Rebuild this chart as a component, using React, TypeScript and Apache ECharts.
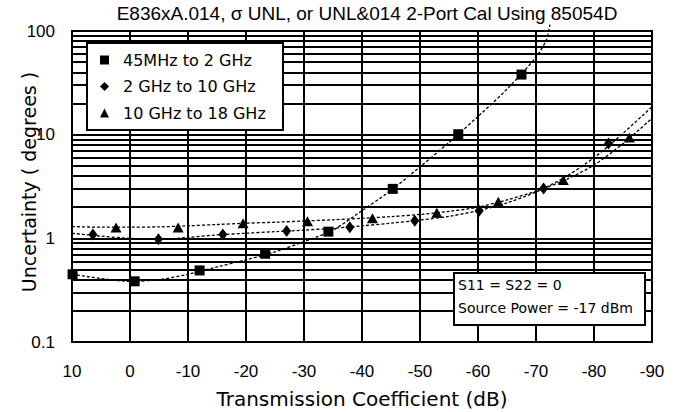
import React, { useEffect, useRef } from "react";
import * as echarts from "echarts";

const titleText = "E836xA.014, σ UNL, or UNL&014 2-Port Cal Using 85054D";
const xAxisName = "Transmission Coefficient (dB)";
const yAxisName = "Uncertainty ( degrees )";
const seriesNames = ["45MHz to 2 GHz", "2 GHz to 10 GHz", "10 GHz to 18 GHz"];
const noteLines = ["S11 = S22 = 0", "Source Power = -17 dBm"];

const minorGridValues = [
  0.2, 0.3, 0.4, 0.5, 0.6, 0.7, 0.8, 0.9,
  2, 3, 4, 5, 6, 7, 8, 9,
  20, 30, 40, 50, 60, 70, 80, 90,
];

// markers
const squareMarkX = [9.9, -0.8, -12, -23.3, -34.2, -45.3, -56.6, -67.5];
const squareMarkY = [0.45, 0.385, 0.49, 0.71, 1.16, 3.0, 10.1, 38];
const diamondMarkX = [6.4, -4.9, -16, -27, -37.9, -49.1, -60.2, -71.3, -82.5];
const diamondMarkY = [1.09, 0.98, 1.09, 1.18, 1.28, 1.48, 1.85, 3.03, 8.2];
const triangleMarkX = [2.4, -8.3, -19.5, -30.6, -41.8, -52.9, -63.5, -74.7, -86.1];
const triangleMarkY = [1.27, 1.27, 1.4, 1.46, 1.56, 1.77, 2.25, 3.65, 9.4];

// fitted curves
const squareCurveX = [10, 5, 0, -5, -10, -15, -20, -25, -30, -35, -40, -45, -50, -55, -60, -65, -70, -71.8, -72.2, -72.4];
const squareCurveY = [0.45, 0.41, 0.385, 0.4, 0.45, 0.53, 0.62, 0.74, 0.93, 1.2, 1.85, 2.9, 4.9, 8.4, 15, 27.5, 56, 82, 100, 115];
const curveX = [10, 5, 0, -5, -10, -15, -20, -25, -30, -35, -40, -45, -50, -55, -60, -65, -70, -75, -80, -85, -90];
const diamondCurveY = [1.12, 1.05, 1.0, 0.98, 1.02, 1.08, 1.12, 1.16, 1.2, 1.25, 1.32, 1.4, 1.5, 1.63, 1.85, 2.2, 2.8, 3.9, 6.0, 10.3, 18.6];
const triangleCurveY = [1.3, 1.28, 1.28, 1.29, 1.32, 1.36, 1.4, 1.43, 1.47, 1.51, 1.56, 1.62, 1.7, 1.82, 2.0, 2.35, 2.85, 3.65, 5.1, 8.2, 14.4];

const zip = (xs: number[], ys: number[]) => xs.map((x, i) => [x, ys[i]]);

export default function App() {
  const ref = useRef<HTMLDivElement>(null);
  useEffect(() => {
    if (!ref.current) return;
    const chart = echarts.init(ref.current, undefined, { renderer: "svg" });
    const curveStyle = { color: "#000", width: 1.3, type: [3, 2] as any, opacity: 1 };
    const markStyle = { color: "#000", opacity: 1 };
    const option: any = {
      animation: false,
      backgroundColor: "#fff",
      grid: {
        left: 72,
        right: 25,
        top: 31,
        bottom: 70,
        show: true,
        borderColor: "#000",
        borderWidth: 2,
        containLabel: false,
        outerBoundsMode: "none",
      },
      xAxis: {
        type: "value",
        min: -90,
        max: 10,
        interval: 10,
        inverse: true,
        axisLine: { show: true, lineStyle: { color: "#000", width: 2 } },
        axisTick: { show: false },
        splitLine: { show: true, lineStyle: { color: "#000", width: 2 } },
        axisLabel: {
          color: "#000",
          fontFamily: "Liberation Sans",
          fontSize: 17,
          margin: 21,
        },
      },
      yAxis: {
        type: "log",
        logBase: 10,
        min: 0.1,
        max: 100,
        axisLine: { show: true, lineStyle: { color: "#000", width: 2 } },
        axisTick: { show: false },
        splitLine: { show: true, lineStyle: { color: "#000", width: 2 } },
        axisLabel: {
          color: "#000",
          fontFamily: "Liberation Sans",
          fontSize: 17,
          margin: 17,
          formatter: (v: number) => String(v),
        },
      },
      legend: {
        orient: "vertical",
        left: 95,
        top: 46.5,
        z: 12,
        selectedMode: false,
        itemWidth: 9,
        itemHeight: 9,
        itemGap: 9.5,
        itemStyle: { color: "#000", opacity: 1 },
        textStyle: {
          color: "#000",
          fontFamily: "DejaVu Sans",
          fontSize: 16,
          lineHeight: 17,
          padding: [0, 0, 0, 9],
        },
        data: [
          { name: seriesNames[0], icon: "rect" },
          { name: seriesNames[1], icon: "diamond" },
          { name: seriesNames[2], icon: "triangle" },
        ],
      },
      graphic: [
        {
          type: "text",
          x: 367,
          y: 13,
          z: 11,
          style: {
            text: titleText,
            fill: "#000",
            font: "19px 'Liberation Sans'",
            textAlign: "center",
            textVerticalAlign: "middle",
          },
        },
        {
          type: "text",
          x: 362,
          y: 399,
          z: 11,
          style: {
            text: xAxisName,
            fill: "#000",
            font: "20px 'DejaVu Sans'",
            textAlign: "center",
            textVerticalAlign: "middle",
          },
        },
        {
          type: "text",
          x: 29,
          y: 182,
          rotation: Math.PI / 2,
          z: 11,
          style: {
            text: yAxisName,
            fill: "#000",
            font: "19px 'DejaVu Sans'",
            textAlign: "center",
            textVerticalAlign: "middle",
          },
        },
        {
          type: "rect",
          z: 10,
          shape: { x: 87, y: 43, width: 196, height: 87 },
          style: { fill: "#fff", stroke: "#000", lineWidth: 2 },
        },
        {
          type: "rect",
          z: 10,
          shape: { x: 454, y: 273, width: 191, height: 52 },
          style: { fill: "#fff", stroke: "#000", lineWidth: 2 },
        },
        {
          type: "text",
          x: 458,
          y: 285,
          z: 11,
          style: {
            text: noteLines[0],
            fill: "#000",
            font: "14px 'DejaVu Sans'",
            textAlign: "left",
            textVerticalAlign: "middle",
          },
        },
        {
          type: "text",
          x: 458,
          y: 308,
          z: 11,
          style: {
            text: noteLines[1],
            fill: "#000",
            font: "14px 'DejaVu Sans'",
            textAlign: "left",
            textVerticalAlign: "middle",
          },
        },
      ],
      series: [
        {
          name: "curve-a",
          type: "line",
          data: zip(squareCurveX, squareCurveY),
          smooth: 0.3,
          showSymbol: false,
          clip: false,
          lineStyle: curveStyle,
          silent: true,
          markLine: {
            silent: true,
            symbol: "none",
            label: { show: false },
            lineStyle: { color: "#000", width: 2, type: "solid", opacity: 1 },
            data: minorGridValues.map((v) => ({ yAxis: v })),
          },
        },
        {
          name: "curve-b",
          type: "line",
          data: zip(curveX, diamondCurveY),
          smooth: 0.3,
          showSymbol: false,
          lineStyle: curveStyle,
          silent: true,
        },
        {
          name: "curve-c",
          type: "line",
          data: zip(curveX, triangleCurveY),
          smooth: 0.3,
          showSymbol: false,
          lineStyle: curveStyle,
          silent: true,
        },
        {
          name: seriesNames[0],
          type: "scatter",
          symbol: "rect",
          symbolSize: 10,
          itemStyle: markStyle,
          data: zip(squareMarkX, squareMarkY),
        },
        {
          name: seriesNames[1],
          type: "scatter",
          symbol: "diamond",
          symbolSize: [9, 12],
          itemStyle: markStyle,
          data: zip(diamondMarkX, diamondMarkY),
        },
        {
          name: seriesNames[2],
          type: "scatter",
          symbol: "triangle",
          symbolSize: [11, 10],
          itemStyle: markStyle,
          data: zip(triangleMarkX, triangleMarkY),
        },
      ],
    };
    chart.setOption(option);
    return () => chart.dispose();
  }, []);
  return (
    <div
      ref={ref}
      style={{ position: "fixed", left: 0, top: 0, width: 677, height: 412, background: "#fff" }}
    />
  );
}
